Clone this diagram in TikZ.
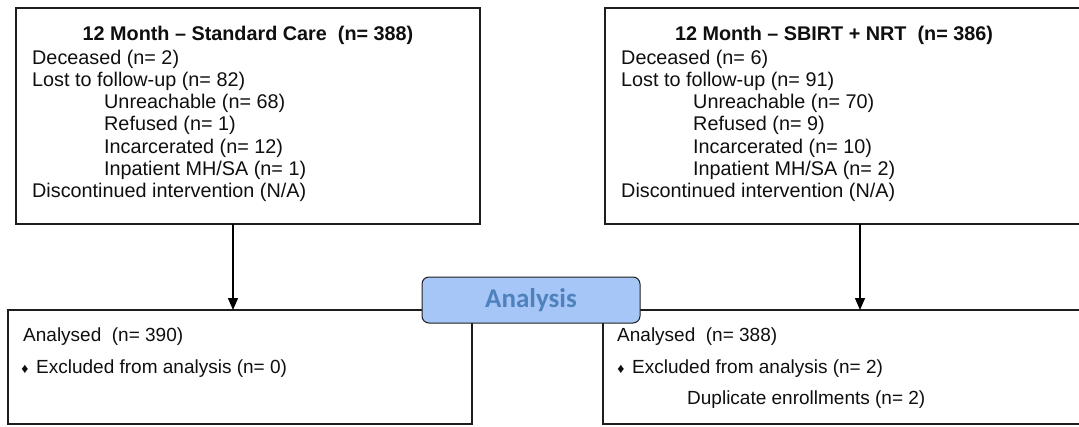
\documentclass[tikz,border=0pt]{standalone}
\usepackage{fontspec}
\setmainfont{Liberation Sans}
\newfontfamily\calib{Carlito}
\usetikzlibrary{arrows.meta}
\definecolor{linec}{RGB}{30,30,30}
\definecolor{textc}{RGB}{15,15,15}
\definecolor{anfill}{RGB}{166,198,247}
\definecolor{antext}{RGB}{79,129,189}
\begin{document}
\begin{tikzpicture}[x=1pt,y=-1pt,
  box/.style={draw=linec,line width=1.2pt,inner sep=0pt,outer sep=0pt,fill=white},
  txt/.style={anchor=base west,inner sep=0pt,text=textc,font=\fontsize{19.8}{22}\selectfont},
  btxt/.style={anchor=base west,inner sep=0pt,text=textc,font=\fontsize{19}{22}\selectfont},
  ttl/.style={anchor=base,inner sep=0pt,text=textc,font=\fontsize{19.8}{22}\selectfont\bfseries},
  bul/.style={anchor=base,inner sep=0pt,text=textc,font=\fontsize{14}{15}\selectfont},
  anbox/.style={draw=linec,line width=1pt,rounded corners=7pt,fill=anfill,inner sep=0pt,
    minimum width=218pt,minimum height=46pt,text=antext,font=\fontsize{27}{28}\selectfont\calib\bfseries},
  arr/.style={draw=black,line width=1.4pt,-{Triangle[width=10pt,length=12pt]}}]
\useasboundingbox (0,0) rectangle (1079,426);
\clip (0,0) rectangle (1079,426);
% top boxes
\node[box,minimum width=464pt,minimum height=216pt] (tl) at (248,116) {};
\node[box,minimum width=485pt,minimum height=216pt] (tr) at (847.5,116) {};
% bottom boxes
\node[box,minimum width=464pt,minimum height=114pt] (bl) at (240,367) {};
\node[box,minimum width=487pt,minimum height=114pt] (br) at (846.5,367) {};
% analysis
\node[anbox] (an) at (531,300) {Analysis};
% arrows
\draw[arr] ([xshift=-15pt]tl.south) -- ([xshift=-7pt]bl.north);
\draw[arr] ([xshift=12.5pt]tr.south) -- ([xshift=13.5pt]br.north);
% left top text
\node[ttl] (tlt) at (248,40) {12 Month -- Standard Care\ \ (n= 388)};
\node[txt] (tl1) at (32,64) {Deceased (n= 2)};
\node[txt] (tl2) at (32,86) {Lost to follow-up (n= 82)};
\node[txt] (tl3) at (104,108) {Unreachable (n= 68)};
\node[txt] (tl4) at (104,130) {Refused (n= 1)};
\node[txt] (tl5) at (104,153) {Incarcerated (n= 12)};
\node[txt] (tl6) at (104,175) {Inpatient MH/SA (n= 1)};
\node[txt] (tl7) at (32,197) {Discontinued intervention (N/A)};
% right top text
\node[ttl] (trt) at (834,40) {12 Month -- SBIRT + NRT\ \ (n= 386)};
\node[txt] (tr1) at (621,64) {Deceased (n= 6)};
\node[txt] (tr2) at (621,86) {Lost to follow-up (n= 91)};
\node[txt] (tr3) at (693,108) {Unreachable (n= 70)};
\node[txt] (tr4) at (693,130) {Refused (n= 9)};
\node[txt] (tr5) at (693,153) {Incarcerated (n= 10)};
\node[txt] (tr6) at (693,175) {Inpatient MH/SA (n= 2)};
\node[txt] (tr7) at (621,197) {Discontinued intervention (N/A)};
% bottom left text
\node[btxt] (bl1) at (23,341) {Analysed\ \ (n= 390)};
\node[bul] (blb) at (25,373) {♦};
\node[btxt] (bl2) at (36,373) {Excluded from analysis (n= 0)};
% bottom right text
\node[btxt] (br1) at (617,341) {Analysed\ \ (n= 388)};
\node[bul] (brb) at (621,373) {♦};
\node[btxt] (br2) at (632,373) {Excluded from analysis (n= 2)};
\node[btxt] (br3) at (687,404) {Duplicate enrollments (n= 2)};
\end{tikzpicture}
\end{document}
